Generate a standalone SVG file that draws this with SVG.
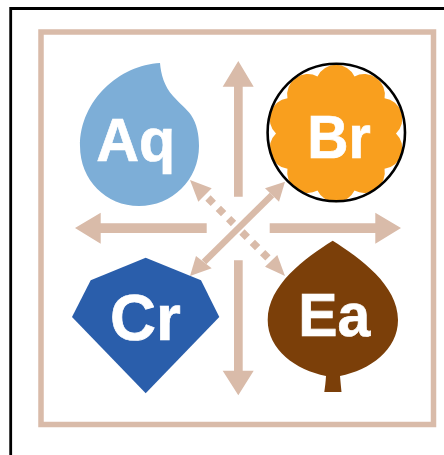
<svg xmlns="http://www.w3.org/2000/svg" width="444" height="455" viewBox="0 0 444 455">
<style>
.lbl{font-family:"Liberation Sans",Arial,sans-serif;font-weight:700;font-size:62px;fill:#fff;stroke:#fff;stroke-width:.7;text-anchor:middle}
.tan{fill:#D9BBA9}
.shaft{stroke:#D9BBA9;fill:none}
</style>
<rect width="444" height="455" fill="#fff"/>
<path id="page-border" d="M10.7,455V8.5H444" fill="none" stroke="#000" stroke-width="2.8"/>
<rect id="frame" x="41" y="32" width="392.5" height="392.5" fill="none" stroke="#D9BBA9" stroke-width="5.5"/>
<g id="connectors">
<polygon class="tan" points="238.3,61 253.7,86.7 242.7,86.7 242.7,196.7 234,196.7 234,86.7 222.7,86.7"/>
<polygon class="tan" points="238.3,395.3 253.7,370.7 242.7,370.7 242.7,260.3 234,260.3 234,370.7 222.7,370.7"/>
<polygon class="tan" points="75,228 100.7,212.7 100.7,223.3 206.7,223.3 206.7,233 100.7,233 100.7,243.7"/>
<polygon class="tan" points="401,228 375.3,212.7 375.3,223.3 269.7,223.3 269.7,233 375.3,233 375.3,243.7"/>
<line class="shaft" x1="204" y1="262" x2="272" y2="195" stroke-width="6.5"/>
<polygon class="tan" points="285,181.7 265,188.3 279,201.7"/>
<polygon class="tan" points="190,276 196,256 211.7,268.3"/>
<line class="shaft" x1="208" y1="198" x2="233.5" y2="223.5" stroke-width="7.5" stroke-dasharray="7.5 7.1"/>
<line class="shaft" x1="242" y1="232" x2="268" y2="258" stroke-width="7.5" stroke-dasharray="7.5 7.1"/>
<polygon class="tan" points="190,180 211.7,188.3 198.3,201.7"/>
<polygon class="tan" points="285,276 265,266.7 277.3,255"/>
</g>
<g id="node-aq">
<path fill="#7DAED7" d="M160,63C161,74 164,86 173,96C180,104 187,109 191,115C197,124 199,135 199,146C199,180 172,206 139,206C106,206 80,180 80,146C80,100 120,65 160,63Z"/>
<text class="lbl" x="135.8" y="161" textLength="79" lengthAdjust="spacingAndGlyphs">Aq</text>
</g>
<g id="node-br">
<path fill="#F99F1E" d="M396,133.5A20.6,20.6 0 0 1 384.54,168.77A20.6,20.6 0 0 1 354.54,190.56A20.6,20.6 0 0 1 317.46,190.56A20.6,20.6 0 0 1 287.46,168.77A20.6,20.6 0 0 1 276,133.5A20.6,20.6 0 0 1 287.46,98.23A20.6,20.6 0 0 1 317.46,76.44A20.6,20.6 0 0 1 354.54,76.44A20.6,20.6 0 0 1 384.54,98.23A20.6,20.6 0 0 1 396,133.5Z"/>
<circle cx="336.3" cy="132.5" r="68.7" fill="none" stroke="#000" stroke-width="2.6"/>
<text class="lbl" x="339" y="157.5" textLength="63.5" lengthAdjust="spacingAndGlyphs">Br</text>
</g>
<g id="node-cr">
<polygon fill="#2A5EAB" points="145.7,257.7 201,280.3 219.3,317 145.7,393.3 72,317 90.7,280.3"/>
<text class="lbl" x="145.5" y="339.5" style="font-size:64px" textLength="70.8" lengthAdjust="spacingAndGlyphs">Cr</text>
</g>
<g id="node-ea">
<path fill="#7B3F09" d="M332.7,240.7C360,258 398,285 398,320C398,350 370,370 340,376C340.5,382 341,387 341.5,392L324.3,392C325,387 325.7,382 326,376C296,370 267.7,350 267.7,320C267.7,285 305,258 332.7,240.7Z"/>
<text class="lbl" x="334.3" y="336" textLength="72" lengthAdjust="spacingAndGlyphs">Ea</text>
</g>
</svg>
